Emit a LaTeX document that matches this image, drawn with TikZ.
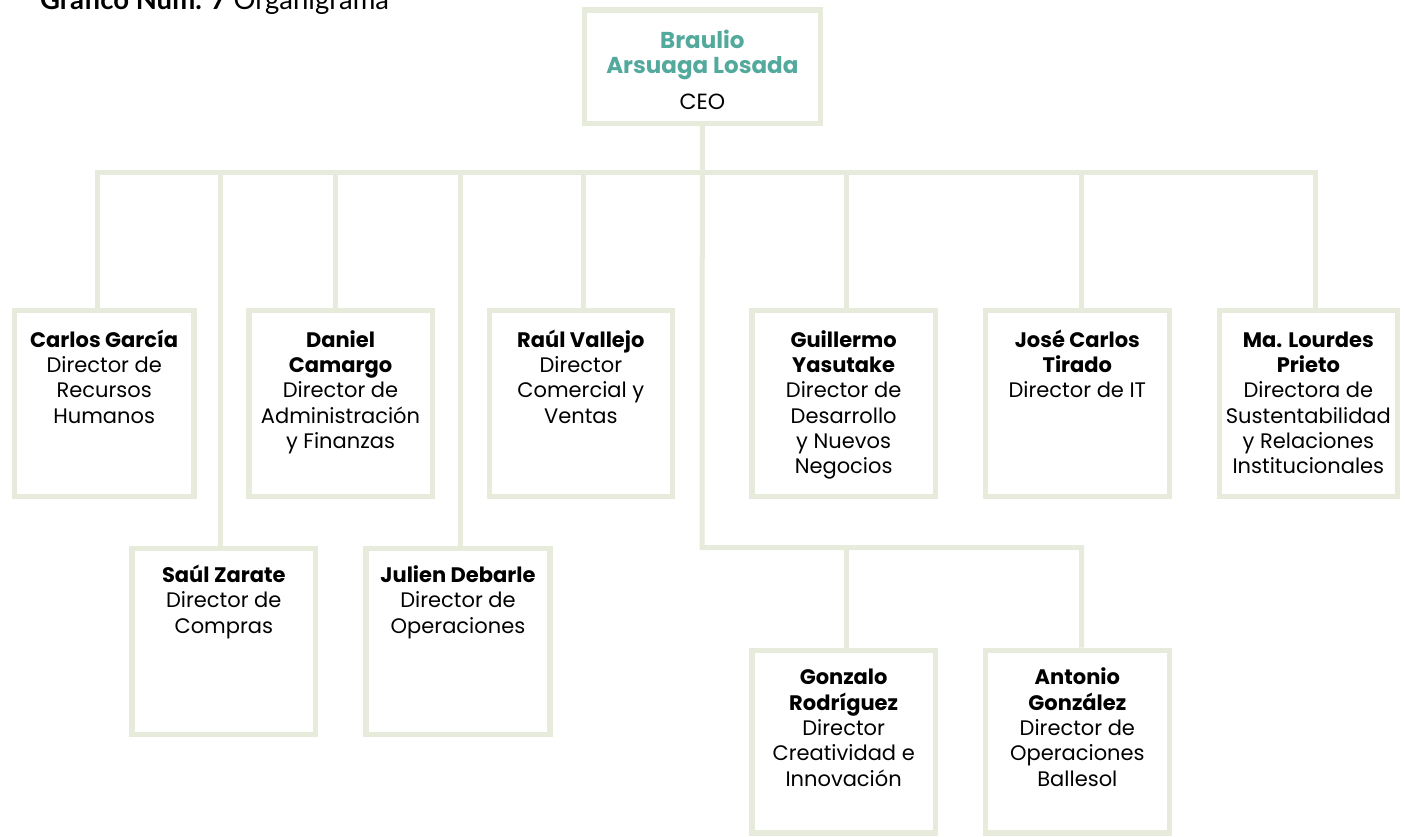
\documentclass[tikz,border=0pt]{standalone}
\usepackage{fontspec}
\setmainfont{Poppins}
\newfontfamily\titlefont{Lato}
\definecolor{frame}{HTML}{E7EBDC}
\definecolor{ceoteal}{HTML}{52A99C}
\begin{document}
\begin{tikzpicture}[x=1pt,y=-1pt,
  box/.style={draw=frame,line width=5.5pt,fill=white,inner sep=0pt},
  conn/.style={draw=frame,line width=5pt},
  txt/.style={align=center,inner sep=0pt,anchor=north,text=black,
    font=\fontsize{21}{25.3}\selectfont}]
\useasboundingbox (0,0) rectangle (1405,836);

% title (partly cut off at top, as in the reference)
\node[anchor=base west,inner sep=0pt,font=\titlefont\fontsize{27.5}{27.5}\selectfont] (title) at (40,9)
  {\textbf{Gráfico Núm. 7} Organigrama};

% boxes
\node[box,minimum width=235.8pt,minimum height=113.5pt] (ceo) at (702.35,66.5) {};
\node[box,minimum width=179.5pt,minimum height=186pt] (carlos) at (104.2,403.25) {};
\node[box,minimum width=183.5pt,minimum height=186pt] (daniel) at (340.5,403.25) {};
\node[box,minimum width=182.8pt,minimum height=186pt] (raul) at (580.85,403.25) {};
\node[box,minimum width=183.8pt,minimum height=186pt] (guillermo) at (843.65,403.25) {};
\node[box,minimum width=183.8pt,minimum height=186pt] (jose) at (1077.35,403.25) {};
\node[box,minimum width=177.8pt,minimum height=186pt] (lourdes) at (1308.35,403.25) {};
\node[box,minimum width=183.5pt,minimum height=186pt] (saul) at (223.8,641.5) {};
\node[box,minimum width=183.9pt,minimum height=186pt] (julien) at (458,641.5) {};
\node[box,minimum width=183.8pt,minimum height=182.3pt] (gonzalo) at (843.65,741.6) {};
\node[box,minimum width=183.8pt,minimum height=182.3pt] (antonio) at (1077.35,741.6) {};

% bus coordinates
\coordinate (bus) at (702,172);
\coordinate (dcarlos) at (97.5,172);
\coordinate (dsaul) at (220.7,172);
\coordinate (ddaniel) at (335.5,172);
\coordinate (djulien) at (460.5,172);
\coordinate (draul) at (583.5,172);
\coordinate (dguillermo) at (846.5,172);
\coordinate (djose) at (1081.5,172);
\coordinate (dlourdes) at (1315,172);
\coordinate (lowbus) at (702,547.5);
\coordinate (dgonzalo) at (846.5,547.5);
\coordinate (dantonio) at (1081.5,547.5);

% connectors
\draw[conn] (carlos.north -| dcarlos) -- (dcarlos) -- (dlourdes) -- (lourdes.north -| dlourdes);
\draw[conn] (ceo.south) -- (lowbus) -- (dantonio) -- (antonio.north -| dantonio);
\draw[conn] (dsaul) -- (saul.north -| dsaul);
\draw[conn] (ddaniel) -- (daniel.north -| ddaniel);
\draw[conn] (djulien) -- (julien.north -| djulien);
\draw[conn] (draul) -- (raul.north -| draul);
\draw[conn] (dguillermo) -- (guillermo.north -| dguillermo);
\draw[conn] (djose) -- (jose.north -| djose);
\draw[conn] (dgonzalo) -- (gonzalo.north -| dgonzalo);

% texts
\node[txt,font=\fontsize{23}{25}\selectfont] (ceotxt) at ([yshift=-21pt]ceo.north)
  {\textcolor{ceoteal}{\textbf{\rule{0pt}{20pt}Braulio}}\\\textcolor{ceoteal}{\textbf{Arsuaga Losada}}\\[11pt]{\fontsize{22}{25}\selectfont CEO}};
\node[txt] (carlostxt) at ([yshift=-19.5pt]carlos.north)
  {\rule{0pt}{20pt}\textbf{Carlos García}\\Director de\\Recursos\\Humanos};
\node[txt] (danieltxt) at ([yshift=-19.5pt]daniel.north)
  {\rule{0pt}{20pt}\textbf{Daniel}\\\textbf{Camargo}\\Director de\\Administración\\y Finanzas};
\node[txt] (raultxt) at ([yshift=-19.5pt]raul.north)
  {\rule{0pt}{20pt}\textbf{Raúl Vallejo}\\Director\\Comercial y\\Ventas};
\node[txt] (guillermotxt) at ([yshift=-19.5pt]guillermo.north)
  {\rule{0pt}{20pt}\textbf{Guillermo}\\\textbf{Yasutake}\\Director de\\Desarrollo\\y Nuevos\\Negocios};
\node[txt] (josetxt) at ([yshift=-19.5pt]jose.north)
  {\rule{0pt}{20pt}\textbf{José Carlos}\\\textbf{Tirado}\\Director de IT};
\node[txt] (lourdestxt) at ([yshift=-19.5pt]lourdes.north)
  {\rule{0pt}{20pt}\textbf{Ma. Lourdes}\\\textbf{Prieto}\\Directora de\\Sustentabilidad\\y Relaciones\\Institucionales};
\node[txt] (saultxt) at ([yshift=-16.5pt]saul.north)
  {\rule{0pt}{20pt}\textbf{Saúl Zarate}\\Director de\\Compras};
\node[txt] (juliantxt) at ([yshift=-16.5pt]julien.north)
  {\rule{0pt}{20pt}\textbf{Julien Debarle}\\Director de\\Operaciones};
\node[txt] (gonzalotxt) at ([yshift=-17pt]gonzalo.north)
  {\rule{0pt}{20pt}\textbf{Gonzalo}\\\textbf{Rodríguez}\\Director\\Creatividad e\\Innovación};
\node[txt] (antoniotxt) at ([yshift=-17pt]antonio.north)
  {\rule{0pt}{20pt}\textbf{Antonio}\\\textbf{González}\\Director de\\Operaciones\\Ballesol};
\end{tikzpicture}
\end{document}
